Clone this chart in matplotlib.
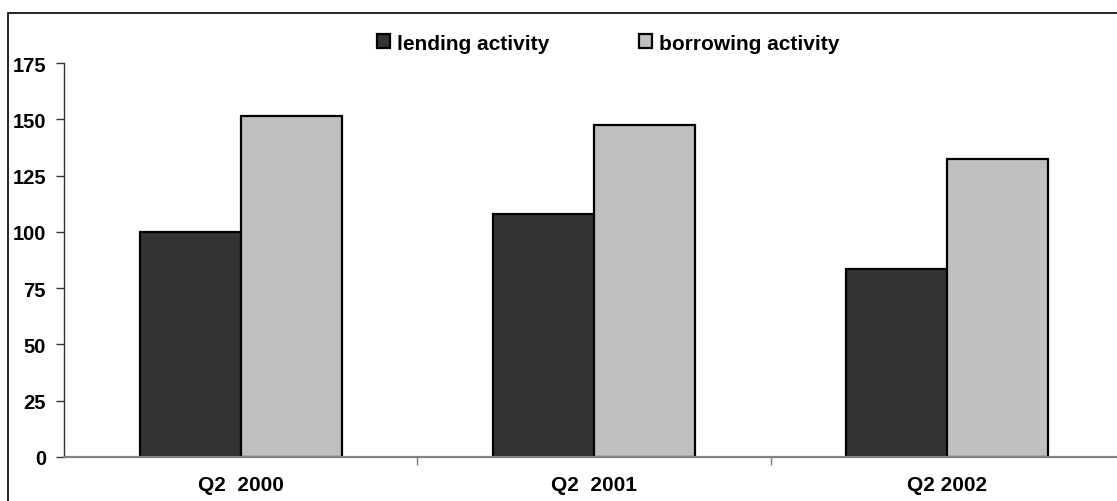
import matplotlib.pyplot as plt
import matplotlib.patches as mpatches
import numpy as np

plt.rcParams['font.family'] = ['Liberation Sans', 'DejaVu Sans']
plt.rcParams['font.weight'] = 'bold'

# Activity values per quarter
quarters = ['Q2  2000', 'Q2  2001', 'Q2 2002']
lending = [100, 108, 83.5]
borrowing = [151.5, 147.5, 132.5]
yticks = [0, 25, 50, 75, 100, 125, 150, 175]

fig = plt.figure(figsize=(11.17, 5.02), dpi=100)
ax = fig.add_axes([64/1117, 1-458/502, 1060/1117, 394/502])

x = np.arange(len(quarters))
w = 0.286
ax.bar(x - w/2, lending, w, color='#333333', edgecolor='black', linewidth=1.6,
       label='lending activity', zorder=3)
ax.bar(x + w/2, borrowing, w, color='#c0c0c0', edgecolor='black', linewidth=1.6,
       label='borrowing activity', zorder=3)

ax.set_xlim(-0.5, 2.5)
ax.set_ylim(0, 175)
ax.set_yticks(yticks)
ax.set_yticklabels([str(v) for v in yticks], fontsize=14.5, fontweight='bold')
ax.tick_params(axis='y', length=6, width=1, pad=7, color='#333333')

ax.set_xticks(x)
ax.set_xticklabels(quarters, fontsize=15, fontweight='bold')
ax.set_xticks([0.5, 1.5], minor=True)
ax.tick_params(axis='x', which='major', length=0, pad=13)
ax.tick_params(axis='x', which='minor', length=6, width=1, color='#808080')

for s in ['top', 'right']:
    ax.spines[s].set_visible(False)
ax.spines['left'].set_color('#333333')
ax.spines['left'].set_linewidth(1)
ax.spines['bottom'].set_color('#808080')
ax.spines['bottom'].set_linewidth(1.6)
ax.spines['bottom'].set_zorder(4)

fig.legend(loc='center', bbox_to_anchor=(608/1117, 1-44/502), ncol=2,
           frameon=False, fontsize=15, handlelength=0.63, handleheight=0.63,
           handletextpad=0.33, columnspacing=4.3, borderaxespad=0)

# border around the chart area
fig.patches.append(mpatches.Rectangle((8/1117, -0.1), 1.2, 1 - 14/502 + 0.1,
                                      transform=fig.transFigure, fill=False,
                                      edgecolor='black', linewidth=1.2))

fig.savefig('out.png', dpi=100)
